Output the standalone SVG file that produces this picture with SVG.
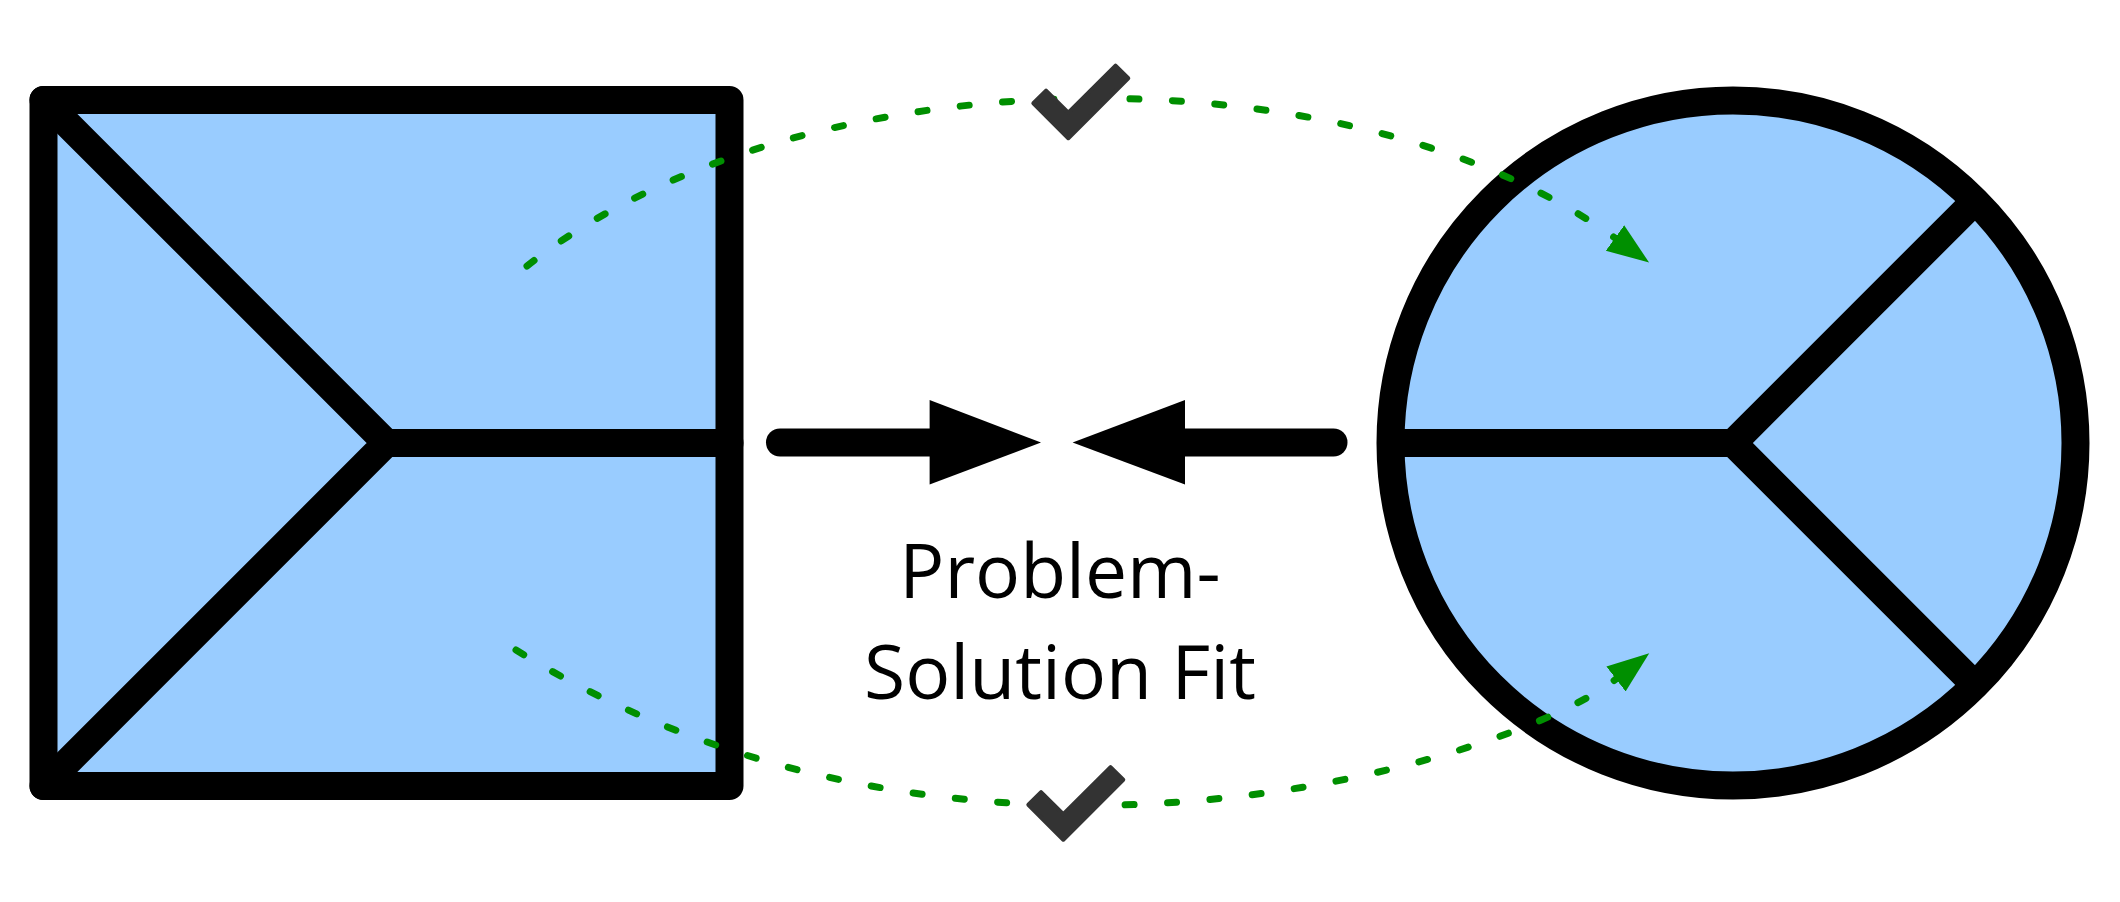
<svg xmlns="http://www.w3.org/2000/svg" width="2120" height="902" viewBox="0 0 2120 902">
  <style>
    .shape { fill: #99ccff; stroke: #000; stroke-width: 28; stroke-linejoin: round; }
    .line { fill: none; stroke: #000; stroke-width: 28; stroke-linecap: round; stroke-linejoin: miter; stroke-miterlimit: 10; }
    .flow { fill: none; stroke: #008f00; stroke-width: 7; stroke-linecap: round; stroke-dasharray: 9 33.5; }
    .check { fill: #333333; stroke: #333333; stroke-width: 4; stroke-linejoin: round; }
    .label { font-family: "Open Sans", "Noto Sans", sans-serif; font-size: 75px; fill: #000; text-anchor: middle; }
  </style>
  <defs>
    <marker id="greenHead" markerUnits="userSpaceOnUse" markerWidth="50" markerHeight="40" refX="0" refY="20" orient="auto" viewBox="0 0 50 40">
      <path d="M0,4.3 L42,20 L0,35.7 Z" fill="#008f00"/>
    </marker>
    <polygon id="checkShape" points="-34.96,-22.24 -22.24,-34.96 0,-12.73 47.24,-59.96 59.96,-47.24 0,12.73"/>
  </defs>

  <g id="node-problem">
    <rect class="shape" x="43.5" y="100" width="686" height="686"/>
    <path class="line" d="M386.5,443 L729.5,443"/>
    <path class="line" d="M43.5,100 L386.5,443 L43.5,786"/>
  </g>

  <g id="node-solution">
    <circle class="shape" cx="1733" cy="443" r="342.5"/>
    <path class="line" style="stroke-linecap:butt" d="M1390.5,443 L1733,443"/>
    <path class="line" style="stroke-linecap:butt" d="M1975.2,200.8 L1733,443 L1975.2,685.2"/>
  </g>

  <g id="connectors">
    <path class="flow" d="M527,266 C800,50 1347,45 1615,238" marker-end="url(#greenHead)"/>
    <path class="flow" d="M516,650 C965,929 1506,764 1616,679" marker-end="url(#greenHead)"/>
    <g id="arrow-right">
      <path class="line" d="M780,442.5 L935,442.5"/>
      <polygon points="929.6,400 1041,442.5 929.6,484.5" fill="#000"/>
    </g>
    <g id="arrow-left">
      <path class="line" d="M1333.5,442.5 L1180,442.5"/>
      <polygon points="1185,400 1072.6,442.5 1185,484.5" fill="#000"/>
    </g>
  </g>

  <g id="check-top">
    <use href="#checkShape" class="check" transform="translate(1068.3,125.5)"/>
  </g>
  <g id="check-bottom">
    <use href="#checkShape" class="check" transform="translate(1063.3,827)"/>
  </g>

  <g id="label">
    <text class="label" x="1060" y="598">Problem-</text>
    <text class="label" x="1060" y="699">Solution Fit</text>
  </g>
</svg>
